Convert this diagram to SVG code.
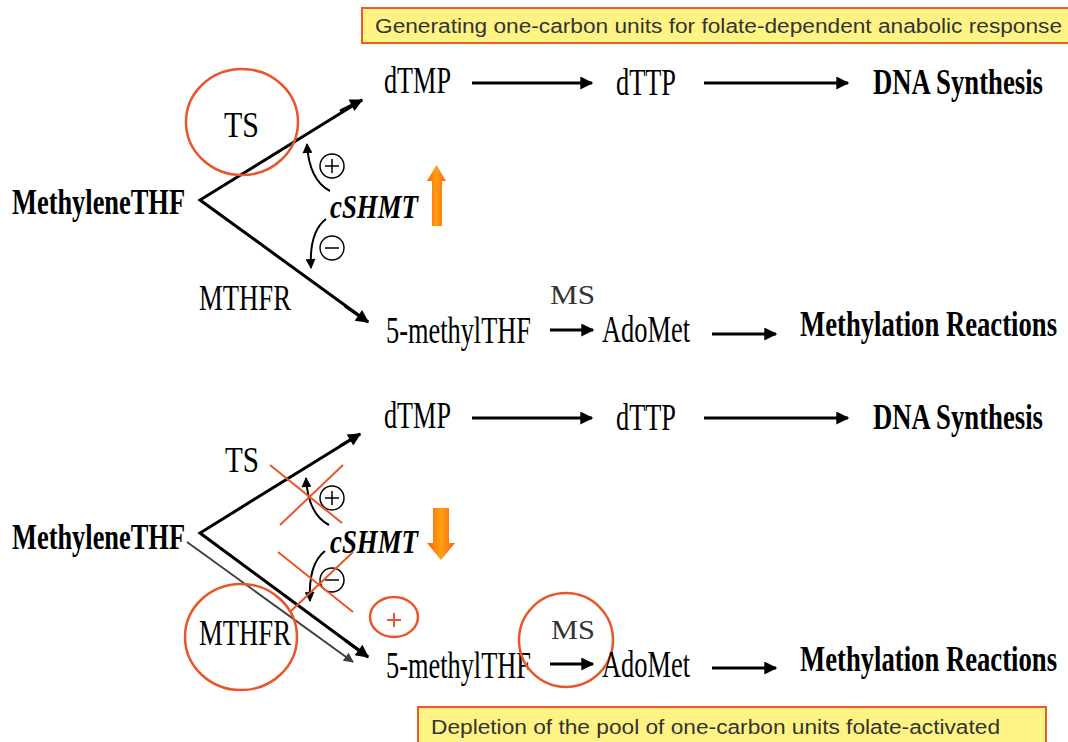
<svg xmlns="http://www.w3.org/2000/svg" width="1068" height="742" viewBox="0 0 1068 742">
<defs>
<style>
.t{font-family:"Liberation Serif","Times New Roman",serif;fill:#000;}
.b{font-weight:bold;}
.bi{font-weight:bold;font-style:italic;}
.ms{fill:#333;}
.box{fill:#fff383;stroke:#f05a28;stroke-width:2;}
.bt{font-family:"Liberation Sans",Arial,sans-serif;fill:#333;font-size:20px;}
.red{fill:none;stroke:#e8562a;stroke-width:2.5;}
.rx{stroke:#e8562a;stroke-width:2;}
.ln{stroke:#000;stroke-width:3;fill:none;}
.cv{stroke:#000;stroke-width:2;fill:none;}
.cc{fill:none;stroke:#000;stroke-width:1.5;}
</style>
<marker id="ah" viewBox="0 0 10 10" refX="9" refY="5" markerWidth="18" markerHeight="13" markerUnits="userSpaceOnUse" orient="auto"><path d="M0 0L10 5L0 10z" fill="#000"/></marker>
<marker id="ahs" viewBox="0 0 10 10" refX="9" refY="5" markerWidth="13" markerHeight="10" markerUnits="userSpaceOnUse" orient="auto"><path d="M0 0L10 5L0 10z" fill="#000"/></marker>
<marker id="ahg" viewBox="0 0 10 10" refX="9" refY="5" markerWidth="14" markerHeight="10" markerUnits="userSpaceOnUse" orient="auto"><path d="M0 0L10 5L0 10z" fill="#404040"/></marker>
<linearGradient id="og" x1="0" y1="0" x2="1" y2="0">
<stop offset="0" stop-color="#ff6010"/><stop offset="0.5" stop-color="#ffa010"/><stop offset="1" stop-color="#ff6010"/>
</linearGradient>
</defs>
<rect width="1068" height="742" fill="#fff"/>

<g id="box-top"><rect class="box" x="362" y="8" width="708" height="35"/>
<text class="bt" x="375" y="33" textLength="687" lengthAdjust="spacingAndGlyphs">Generating one-carbon units for folate-dependent anabolic response</text></g>
<g id="box-bottom"><rect class="box" x="418" y="707" width="628" height="40"/>
<text class="bt" x="431" y="734" textLength="569" lengthAdjust="spacingAndGlyphs">Depletion of the pool of one-carbon units folate-activated</text></g>

<g id="connectors">
<line class="ln" x1="472" y1="83" x2="592" y2="83" marker-end="url(#ah)"/>
<line class="ln" x1="704" y1="83" x2="848" y2="83" marker-end="url(#ah)"/>
<line class="ln" x1="550" y1="330" x2="593" y2="330" marker-end="url(#ah)"/>
<line class="ln" x1="712" y1="334" x2="776" y2="334" marker-end="url(#ah)"/>
<polyline class="ln" points="362,100 200,200 368,322"/>
<line class="ln" x1="340" y1="111" x2="362" y2="100" marker-end="url(#ah)"/>
<line class="ln" x1="345" y1="306" x2="368" y2="322" marker-end="url(#ah)"/>
<path class="cv" d="M330 191 Q309 180 307 144" marker-end="url(#ahs)"/>
<path class="cv" d="M326 219 Q309 232 311 268" marker-end="url(#ahs)"/>
<line class="ln" x1="472" y1="418" x2="592" y2="418" marker-end="url(#ah)"/>
<line class="ln" x1="704" y1="418" x2="848" y2="418" marker-end="url(#ah)"/>
<line class="ln" x1="550" y1="664" x2="593" y2="664" marker-end="url(#ah)"/>
<line class="ln" x1="712" y1="668" x2="776" y2="668" marker-end="url(#ah)"/>
<polyline class="ln" points="360,434 200,533 368,657"/>
<line class="ln" x1="340" y1="446" x2="360" y2="434" marker-end="url(#ah)"/>
<line class="ln" x1="345" y1="640" x2="368" y2="657" marker-end="url(#ah)"/>
<line x1="187" y1="542" x2="353" y2="662" stroke="#404040" stroke-width="2" marker-end="url(#ahg)"/>
<path class="cv" d="M329 525 Q308 514 306 478" marker-end="url(#ahs)"/>
<path class="cv" d="M325 551 Q308 564 310 601" marker-end="url(#ahs)"/>
</g>

<g id="top-section">
<g id="n-methylene1"><text class="t b" x="12" y="214" font-size="36" textLength="173" lengthAdjust="spacingAndGlyphs">MethyleneTHF</text></g>
<g id="n-ts1"><text class="t" x="224" y="137" font-size="36" textLength="35" lengthAdjust="spacingAndGlyphs">TS</text>
<ellipse class="red" cx="242" cy="122" rx="56" ry="53"/></g>
<g id="n-dtmp1"><text class="t" x="384" y="93" font-size="38" textLength="67" lengthAdjust="spacingAndGlyphs">dTMP</text></g>
<g id="n-dttp1"><text class="t" x="616" y="95" font-size="38" textLength="60" lengthAdjust="spacingAndGlyphs">dTTP</text></g>
<g id="n-dna1"><text class="t b" transform="translate(873 94) scale(0.76 1)" x="0" y="0" font-size="35" textLength="223.7" lengthAdjust="spacingAndGlyphs">DNA Synthesis</text></g>
<g id="n-shmt1"><text class="t bi" x="330" y="218" font-size="34" textLength="88" lengthAdjust="spacingAndGlyphs">cSHMT</text>
<circle class="cc" cx="332" cy="166" r="12"/><path d="M325 166H339M332 159V173" stroke="#000" stroke-width="1.5"/>
<circle class="cc" cx="332" cy="248" r="12"/><path d="M325 248H339" stroke="#000" stroke-width="1.5"/>
<path d="M432 226V181H427L436.5 165L446 181H442V226Z" fill="url(#og)"/></g>
<g id="n-mthfr1"><text class="t" x="199" y="310" font-size="36" textLength="92" lengthAdjust="spacingAndGlyphs">MTHFR</text></g>
<g id="n-5m1"><text class="t" x="386" y="343" font-size="37" textLength="145" lengthAdjust="spacingAndGlyphs">5-methylTHF</text></g>
<g id="n-ms1"><text class="t ms" x="550" y="304" font-size="27" textLength="45" lengthAdjust="spacingAndGlyphs">MS</text></g>
<g id="n-adomet1"><text class="t" x="602" y="342" font-size="37" textLength="88" lengthAdjust="spacingAndGlyphs">AdoMet</text></g>
<g id="n-meth1"><text class="t b" transform="translate(800 336) scale(0.76 1)" x="0" y="0" font-size="35" textLength="338.2" lengthAdjust="spacingAndGlyphs">Methylation Reactions</text></g>
</g>

<g id="bottom-section">
<g id="n-methylene2"><text class="t b" x="12" y="549" font-size="36" textLength="173" lengthAdjust="spacingAndGlyphs">MethyleneTHF</text></g>
<g id="n-ts2"><text class="t" x="225" y="472" font-size="36" textLength="34" lengthAdjust="spacingAndGlyphs">TS</text></g>
<g id="n-dtmp2"><text class="t" x="384" y="428" font-size="38" textLength="67" lengthAdjust="spacingAndGlyphs">dTMP</text></g>
<g id="n-dttp2"><text class="t" x="616" y="430" font-size="38" textLength="60" lengthAdjust="spacingAndGlyphs">dTTP</text></g>
<g id="n-dna2"><text class="t b" transform="translate(873 429) scale(0.76 1)" x="0" y="0" font-size="35" textLength="223.7" lengthAdjust="spacingAndGlyphs">DNA Synthesis</text></g>
<g id="n-shmt2"><text class="t bi" x="330" y="553" font-size="34" textLength="88" lengthAdjust="spacingAndGlyphs">cSHMT</text>
<circle class="cc" cx="332" cy="498" r="12"/><path d="M325 498H339M332 491V505" stroke="#000" stroke-width="1.5"/>
<circle class="cc" cx="332" cy="580" r="12"/><path d="M325 580H339" stroke="#000" stroke-width="1.5"/>
<path d="M433 508V543H427L441 560L455 543H449V508Z" fill="url(#og)"/></g>
<g id="n-mthfr2"><text class="t" x="199" y="645" font-size="36" textLength="92" lengthAdjust="spacingAndGlyphs">MTHFR</text>
<ellipse class="red" cx="241" cy="637" rx="56" ry="53"/></g>
<g id="n-5m2"><text class="t" x="386" y="678" font-size="37" textLength="145" lengthAdjust="spacingAndGlyphs">5-methylTHF</text></g>
<g id="n-ms2"><text class="t ms" x="551" y="639" font-size="27" textLength="44" lengthAdjust="spacingAndGlyphs">MS</text>
<circle class="red" cx="566" cy="640" r="47"/></g>
<g id="n-adomet2"><text class="t" x="602" y="677" font-size="37" textLength="88" lengthAdjust="spacingAndGlyphs">AdoMet</text></g>
<g id="n-meth2"><text class="t b" transform="translate(800 671) scale(0.76 1)" x="0" y="0" font-size="35" textLength="338.2" lengthAdjust="spacingAndGlyphs">Methylation Reactions</text></g>
<g id="n-plus"><ellipse class="red" cx="394" cy="617" rx="24" ry="20"/>
<path d="M387 620H401M394 613V627" class="rx"/></g>
<g id="crosses">
<line class="rx" x1="270" y1="465" x2="342" y2="523"/>
<line class="rx" x1="280" y1="525" x2="343" y2="465"/>
<line class="rx" x1="278" y1="552" x2="353" y2="612"/>
<line class="rx" x1="291" y1="611" x2="353" y2="552"/>
</g>
</g>
</svg>
